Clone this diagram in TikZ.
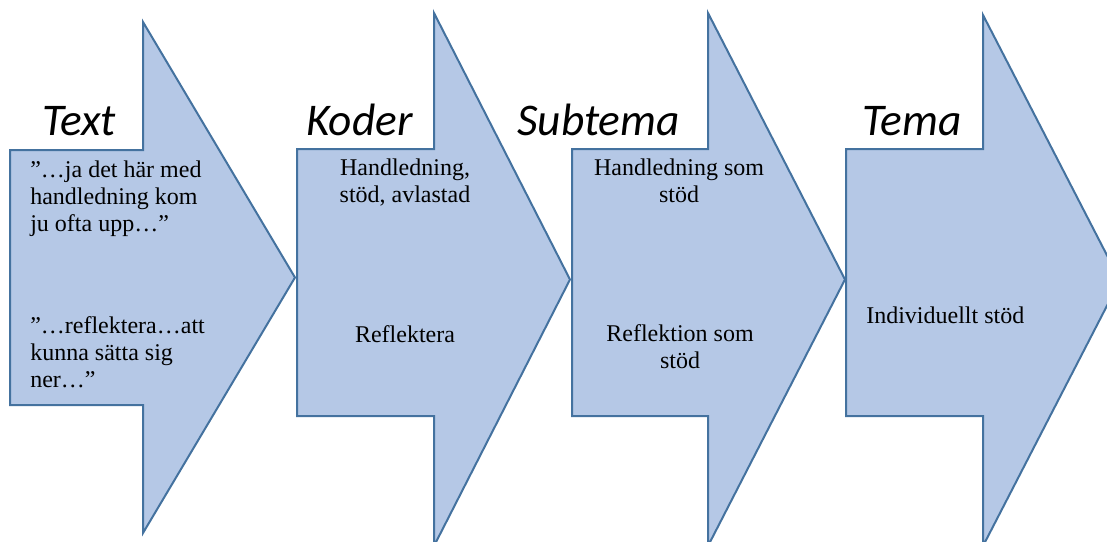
\documentclass[tikz,border=0pt]{standalone}
\usepackage{fontspec}
\setmainfont{Liberation Serif}
\newfontfamily\titlefont{Carlito}
\definecolor{arrowfill}{HTML}{B5C8E6}
\definecolor{arrowline}{HTML}{44729F}
\tikzset{
  chevron/.style={fill=arrowfill, draw=arrowline, line width=1.5pt, line join=miter},
  heading/.style={font=\titlefont\itshape\fontsize{34}{40}\selectfont, anchor=base west, inner sep=0pt},
  body/.style={font=\fontsize{18}{20}\selectfont, inner sep=0pt, anchor=base},
}
\begin{document}
\begin{tikzpicture}[x=0.75pt, y=-0.75pt]
\useasboundingbox (0,0) rectangle (1107,542);
\clip (0,0) rectangle (1107,542);
% arrows
\draw[chevron] (10,150) -- (143,150) -- (143,22) -- (295,277.5) -- (143,533) -- (143,405) -- (10,405) -- cycle;
\draw[chevron] (297,149) -- (434,149) -- (434,13) -- (570,279.5) -- (434,546) -- (434,416) -- (297,416) -- cycle;
\draw[chevron] (572,149) -- (708,149) -- (708,13) -- (845,279.5) -- (708,546) -- (708,416) -- (572,416) -- cycle;
\draw[chevron] (846,149) -- (983,149) -- (983,15) -- (1120,280.5) -- (983,546) -- (983,416) -- (846,416) -- cycle;
% headings
\node[heading] (h1) at (42,135) {Text};
\node[heading] (h2) at (306,135) {Koder};
\node[heading] (h3) at (517,135) {Subtema};
\node[heading] (h4) at (862,135) {Tema};
% texts (base anchor = baseline of last line)
\node[body, anchor=base west, align=left] (t1) at (30,231) {”…ja det här med\\handledning kom\\ju ofta upp…”};
\node[body, anchor=base west, align=left] (t2) at (30,387) {”…reflektera…att\\kunna sätta sig\\ner…”};
\node[body, align=center] (k1) at (405,202) {Handledning,\\stöd, avlastad};
\node[body] (k2) at (405,342) {Reflektera};
\node[body, align=center] (s1) at (679,202) {Handledning som\\stöd};
\node[body, align=center] (s2) at (680,368) {Reflektion som\\stöd};
\node[body, anchor=base west] (m1) at (866,323) {Individuellt stöd};
\end{tikzpicture}
\end{document}
